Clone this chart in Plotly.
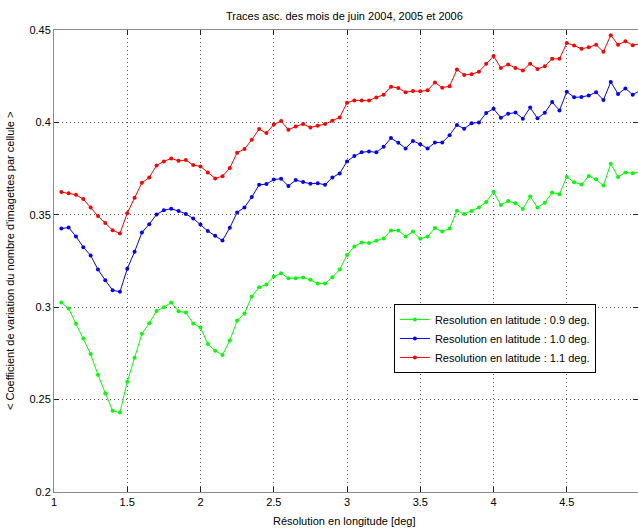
import plotly.graph_objects as go

# Longitude resolution (deg)
lon_res = [round(1.05 + 0.05 * i, 2) for i in range(80)]

cv_lat_09 = [
    0.3025, 0.2993, 0.2910, 0.2830, 0.2747, 0.2634, 0.2533, 0.2439, 0.2430, 0.2596,
    0.2726, 0.2856, 0.2913, 0.2980, 0.3000, 0.3025, 0.2978, 0.2971, 0.2912, 0.2890,
    0.2801, 0.2764, 0.2742, 0.2820, 0.2928, 0.2966, 0.3058, 0.3108, 0.3123, 0.3166,
    0.3184, 0.3157, 0.3157, 0.3161, 0.3148, 0.3128, 0.3128, 0.3162, 0.3204, 0.3282,
    0.3329, 0.3350, 0.3347, 0.3359, 0.3372, 0.3415, 0.3415, 0.3383, 0.3409, 0.3370,
    0.3382, 0.3428, 0.3409, 0.3426, 0.3522, 0.3504, 0.3520, 0.3540, 0.3569, 0.3625,
    0.3553, 0.3574, 0.3563, 0.3532, 0.3599, 0.3540, 0.3565, 0.3620, 0.3611, 0.3705,
    0.3676, 0.3664, 0.3710, 0.3692, 0.3658, 0.3776, 0.3705, 0.3729, 0.3725, 0.3732,
]

cv_lat_10 = [
    0.3426, 0.3431, 0.3383, 0.3325, 0.3280, 0.3204, 0.3146, 0.3092, 0.3083, 0.3208,
    0.3300, 0.3404, 0.3449, 0.3502, 0.3525, 0.3533, 0.3520, 0.3505, 0.3480, 0.3448,
    0.3412, 0.3386, 0.3361, 0.3430, 0.3513, 0.3540, 0.3596, 0.3662, 0.3666, 0.3691,
    0.3695, 0.3656, 0.3688, 0.3677, 0.3668, 0.3671, 0.3662, 0.3702, 0.3724, 0.3789,
    0.3818, 0.3838, 0.3843, 0.3838, 0.3868, 0.3915, 0.3890, 0.3859, 0.3900, 0.3882,
    0.3859, 0.3891, 0.3891, 0.3931, 0.3986, 0.3966, 0.3995, 0.4000, 0.4051, 0.4074,
    0.4025, 0.4047, 0.4053, 0.4020, 0.4080, 0.4022, 0.4052, 0.4110, 0.4065, 0.4166,
    0.4136, 0.4137, 0.4146, 0.4163, 0.4121, 0.4219, 0.4154, 0.4184, 0.4150, 0.4172,
]

cv_lat_11 = [
    0.3623, 0.3617, 0.3608, 0.3585, 0.3540, 0.3493, 0.3455, 0.3417, 0.3399, 0.3509,
    0.3592, 0.3673, 0.3702, 0.3767, 0.3789, 0.3805, 0.3792, 0.3796, 0.3769, 0.3762,
    0.3729, 0.3697, 0.3709, 0.3753, 0.3836, 0.3856, 0.3906, 0.3964, 0.3942, 0.3989,
    0.4007, 0.3960, 0.3978, 0.3991, 0.3973, 0.3982, 0.3991, 0.4009, 0.4027, 0.4106,
    0.4119, 0.4119, 0.4119, 0.4135, 0.4150, 0.4193, 0.4186, 0.4163, 0.4170, 0.4168,
    0.4174, 0.4216, 0.4188, 0.4196, 0.4286, 0.4257, 0.4261, 0.4274, 0.4317, 0.4359,
    0.4295, 0.4313, 0.4295, 0.4281, 0.4318, 0.4289, 0.4304, 0.4344, 0.4344, 0.4429,
    0.4416, 0.4398, 0.4407, 0.4420, 0.4382, 0.4472, 0.4420, 0.4439, 0.4418, 0.4425,
]

series = [
    ("Resolution en latitude : 0.9 deg.", cv_lat_09, "#00ff00"),
    ("Resolution en latitude : 1.0 deg.", cv_lat_10, "#0000ff"),
    ("Resolution en latitude : 1.1 deg.", cv_lat_11, "#ff0000"),
]

x_ticks = [1, 1.5, 2, 2.5, 3, 3.5, 4, 4.5, 5]
x_tick_text = ["1", "1.5", "2", "2.5", "3", "3.5", "4", "4.5", "5"]
y_ticks = [0.2, 0.25, 0.3, 0.35, 0.4, 0.45]
y_tick_text = ["0.2", "0.25", "0.3", "0.35", "0.4", "0.45"]

FONT = "Liberation Sans, Arial, Helvetica, sans-serif"

fig = go.Figure()
for name, vals, col in series:
    fig.add_trace(go.Scatter(
        x=lon_res, y=vals, name=name, mode="lines+markers",
        line=dict(color=col, width=1),
        marker=dict(color=col, size=4, symbol="circle"),
    ))

axis_common = dict(
    showgrid=True, gridcolor="#555555", griddash="1px,3px", gridwidth=1,
    showline=True, linecolor="#8a8a8a", linewidth=1, mirror="ticks",
    ticks="inside", ticklen=5, tickcolor="#222222", tickwidth=1,
    zeroline=False, tickfont=dict(family=FONT, size=11, color="#000000"),
)

fig.update_layout(
    width=638, height=529,
    margin=dict(l=54, r=0, t=30, b=37),
    paper_bgcolor="white", plot_bgcolor="white",
    font=dict(family=FONT, size=11, color="#000000"),
    showlegend=True,
    legend=dict(
        x=0.582, y=0.407, xanchor="left", yanchor="top",
        bgcolor="white", bordercolor="#000000", borderwidth=1,
        font=dict(family=FONT, size=11, color="#000000"),
        tracegroupgap=0, itemwidth=30,
    ),
    xaxis=dict(range=[1, 4.986], tickvals=x_ticks, ticktext=x_tick_text, **axis_common),
    yaxis=dict(range=[0.2, 0.45], tickvals=y_ticks, ticktext=y_tick_text, **axis_common),
    annotations=[
        dict(text="Traces asc. des mois de juin 2004, 2005 et 2006", xref="paper", yref="paper",
             x=0.498, y=1.0, yshift=14, xanchor="center", yanchor="middle", showarrow=False,
             font=dict(family=FONT, size=11)),
        dict(text="Résolution en longitude [deg]", xref="paper", yref="paper",
             x=0.498, y=0.0, yshift=-29, xanchor="center", yanchor="middle", showarrow=False,
             font=dict(family=FONT, size=11)),
        dict(text="< Coefficient de variation du nombre d'imagettes par cellule >", xref="paper", yref="paper",
             x=0.0, xshift=-44, y=0.5, xanchor="center", yanchor="middle", showarrow=False,
             textangle=-90, font=dict(family=FONT, size=11)),
    ],
)

fig.write_html("out.html")
